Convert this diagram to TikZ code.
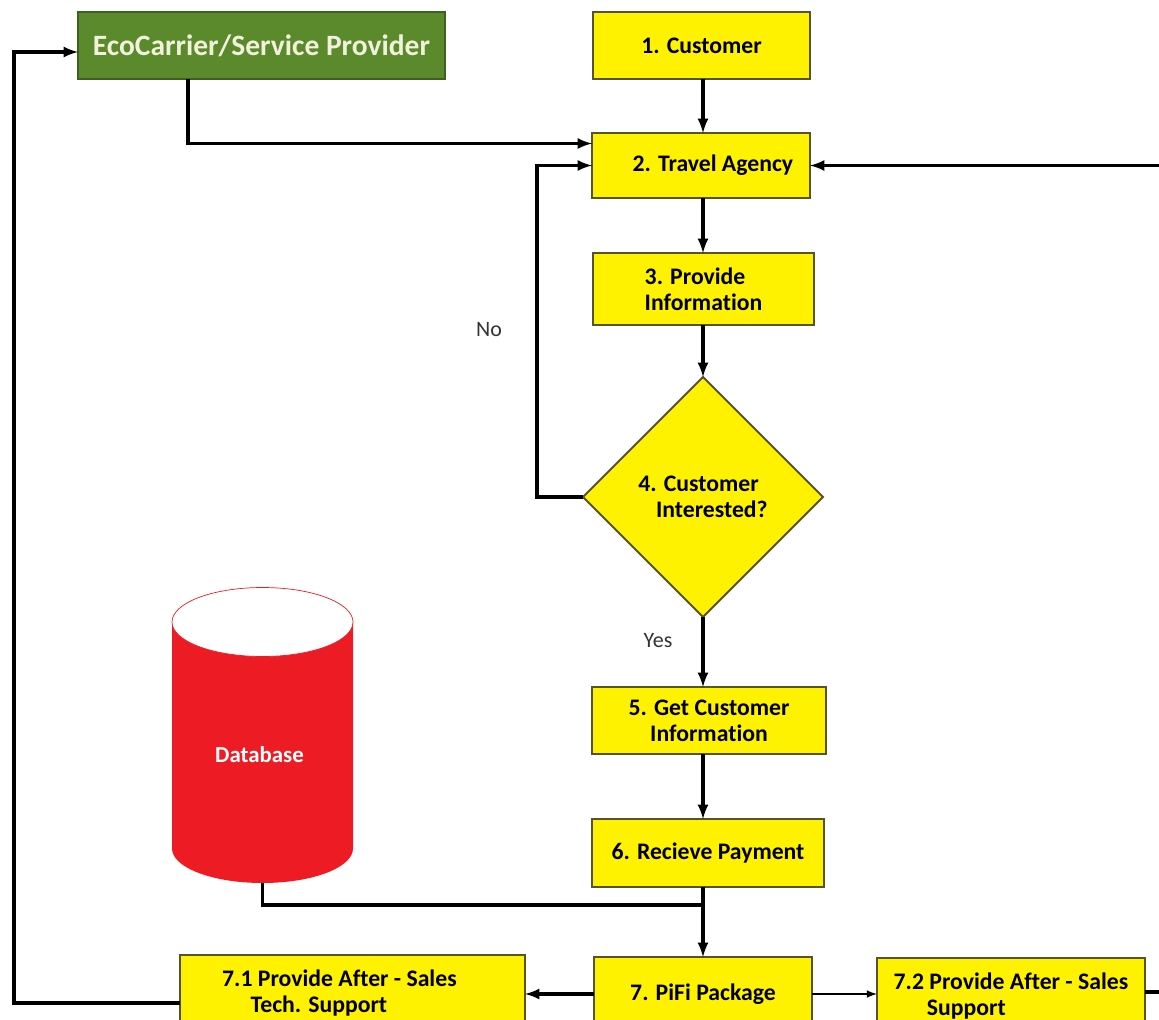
\documentclass[tikz,border=0pt]{standalone}
\usepackage{fontspec}
\setmainfont{Carlito}[Ligatures=NoCommon]
\usepackage{tikz}
\usetikzlibrary{arrows}
\usetikzlibrary{positioning}
\usetikzlibrary{shapes.geometric}
\newdimen\pxu
\pxu=0.02cm
\definecolor{boxfill}{HTML}{FFF200}
\definecolor{boxedge}{HTML}{55542A}
\definecolor{ecogreen}{HTML}{5A8A2B}
\definecolor{ecoedge}{HTML}{3F5F1E}
\definecolor{ecotext}{HTML}{F2F2DC}
\definecolor{dbred}{HTML}{ED1C24}
\tikzset{%
  >=latex,
  inner sep=0pt,%
  outer sep=0pt,%
  stepbox/.style={draw=boxedge,fill=boxfill,line width=1.1pt,
    font=\bfseries\fontsize{13.5}{15}\selectfont},
  ecobox/.style={draw=ecoedge,fill=ecogreen,line width=1.1pt,text=ecotext,
    font=\bfseries\fontsize{16.8}{19}\selectfont},
  decide/.style={diamond,draw=boxedge,fill=boxfill,line width=1.1pt,
    font=\bfseries\fontsize{13.5}{15}\selectfont},
  link/.style={->,line width=1.8pt},
  thinlink/.style={->,line width=1pt},
  answer/.style={text=black!80,font=\fontsize{12.5}{14}\selectfont}
}

\begin{document}
\begin{tikzpicture}[x=0.02cm,y=-0.02cm]
\useasboundingbox (0,0) rectangle (1159,1020);
\clip (0,0) rectangle (1159,1020);
\coordinate (spine) at (703,0); % main column
\coordinate (join) at (703,905);
\coordinate (dbbase) at (262.5,883);

% database
\fill[dbred] (172,622) -- (172,848.5) arc[start angle=180,end angle=360,x radius=90.5\pxu,y radius=34.5\pxu] -- (353,622) -- cycle;
\draw[dbred,fill=white,thin] (262.5,622) ellipse[x radius=90.5\pxu,y radius=34.5\pxu];
\node[text=white,font=\bfseries\fontsize{13}{15}\selectfont] (db) at (259.5,755) {Database};

\node[ecobox,minimum width=367\pxu,minimum height=67\pxu] (eco) at (261.5,45.5) {EcoCarrier/Service Provider};
\node[stepbox,minimum width=217\pxu,minimum height=67\pxu] (cust) at (701.5,45.5) {1. Customer};
\node[stepbox,minimum width=218\pxu,minimum height=65\pxu] (agency) at (701,165.5) {\hspace*{1em}2. Travel Agency};
\node[stepbox,minimum width=221\pxu,minimum height=72\pxu,align=left] (info) at (703.5,289) {3. Provide\\Information};
\node[decide,minimum width=240\pxu,minimum height=240\pxu,align=left] (interest) at (703,497) {4. Customer\\\hspace*{0.75em}Interested?};
\node[stepbox,minimum width=234\pxu,minimum height=67\pxu,align=center] (getinfo) at (709,720.5) {5. Get Customer\\Information};
\node[stepbox,minimum width=232\pxu,minimum height=68\pxu] (pay) at (708,853) {6. Recieve Payment};
\node[stepbox,minimum width=218\pxu,minimum height=74\pxu] (pifi) at (703,994) {7. PiFi Package};
\node[stepbox,minimum width=345\pxu,minimum height=76\pxu,align=left] (as71) at (352.5,993) {7.1 Provide After - Sales\hspace*{1.1em}\\\hspace*{1.2em}Tech. Support};
\node[stepbox,minimum width=268\pxu,minimum height=76\pxu,align=left] (as72) at (1011,996) {7.2 Provide After - Sales\\\hspace*{1.4em}Support};

\node[answer] (no) at (489,330) {No};
\node[answer] (yes) at (658,641) {Yes};

\draw[link] (spine |- cust.south) -- (spine |- agency.north);
\draw[link] (spine |- agency.south) -- (spine |- info.north);
\draw[link] (spine |- info.south) -- (interest.north);
\draw[link] (interest.south) -- (spine |- getinfo.north);
\draw[link] (spine |- getinfo.south) -- (spine |- pay.north);
\draw[link] (spine |- pay.south) -- (spine |- pifi.north);
\draw[line width=1.8pt] (dbbase) |- (join); % database feed

\draw[link] (interest.west) -- ++(-46,0) |- (agency.west); %no
\draw[link] ([xshift=110\pxu]eco.south west) |- ([yshift=22\pxu]agency.west);
\draw[link] (pifi.west) -- (pifi.west -| as71.east);
\draw[thinlink] (pifi.east) -- (pifi.east -| as72.west);
\draw[link] ([yshift=-10\pxu]as71.west) -- ++(-166,0) |- ([yshift=-6.5\pxu]eco.west);
\draw[link] ([yshift=4\pxu]as72.east) -- ++(40,0) |- (agency.east);
\end{tikzpicture}
\end{document}
